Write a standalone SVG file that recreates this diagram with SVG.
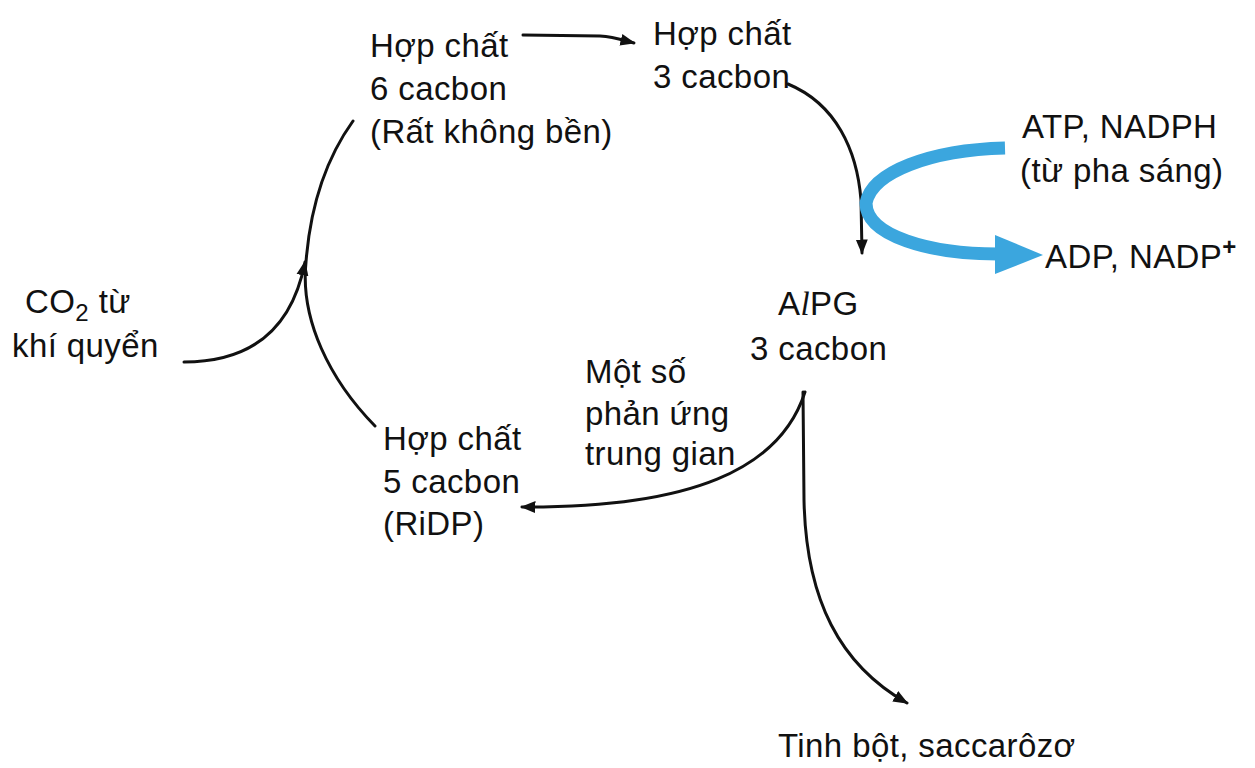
<svg xmlns="http://www.w3.org/2000/svg" width="1255" height="768" viewBox="0 0 1255 768">
<style>
text{font-family:"Liberation Sans",Arial,sans-serif;font-size:33px;letter-spacing:0.4px;fill:#111}
.ln{fill:none;stroke:#111;stroke-width:3;stroke-linecap:round}
</style>
<defs>
<marker id="ah" viewBox="0 0 10 10" refX="9" refY="5" markerWidth="5" markerHeight="5" markerUnits="strokeWidth" orient="auto">
<path d="M0,1 L10,5 L0,9 Z" fill="#111"/>
</marker>
</defs>
<rect width="1255" height="768" fill="#fff"/>
<g id="connectors">
<path class="ln" d="M184,362 C240,362 290,340 305,262" marker-end="url(#ah)"/>
<path class="ln" d="M375,426 C330,380 300,320 306,262 C310,210 325,160 353,121"/>
<path class="ln" d="M523,35 L600,36 C615,37 622,40 634,43" marker-end="url(#ah)"/>
<path class="ln" d="M788,84 C836,104 857,150 861,200 L862,253" marker-end="url(#ah)"/>
<path class="ln" d="M805,392 C780,470 690,508 522,507" marker-end="url(#ah)"/>
<path class="ln" d="M803,392 L804,500 C806,600 840,665 907,703" marker-end="url(#ah)"/>
<path d="M1005,148 C930,150 872,172 866,203 C866,236 930,254 998,254" fill="none" stroke="#3ba6de" stroke-width="13"/>
<path d="M995,235 L1043,255 L995,274 Z" fill="#3ba6de"/>
</g>
<g id="n6c"><text x="370" y="57">Hợp chất</text><text x="370" y="100">6 cacbon</text><text x="370" y="143">(Rất không bền)</text></g>
<g id="n3c"><text x="653" y="45">Hợp chất</text><text x="653" y="88">3 cacbon</text></g>
<g id="natp"><text x="1022" y="138">ATP, NADPH</text><text x="1020" y="182">(từ pha sáng)</text></g>
<g id="nadp"><text x="1045" y="268">ADP, NADP<tspan dy="-13" font-size="24" font-weight="bold">+</tspan></text></g>
<g id="napg"><text x="778" y="315">A<tspan font-family="Liberation Serif" font-style="italic">l</tspan>PG</text><text x="750" y="360">3 cacbon</text></g>
<g id="nmid"><text x="585" y="383">Một số</text><text x="585" y="425">phản ứng</text><text x="585" y="465">trung gian</text></g>
<g id="n5c"><text x="383" y="450">Hợp chất</text><text x="383" y="493">5 cacbon</text><text x="383" y="535">(RiDP)</text></g>
<g id="nco2"><text x="25" y="313">CO<tspan dy="8" font-size="24">2</tspan><tspan dy="-8"> từ</tspan></text><text x="12" y="357">khí quyển</text></g>
<g id="nsug"><text x="778" y="757">Tinh bột, saccarôzơ</text></g>
</svg>
